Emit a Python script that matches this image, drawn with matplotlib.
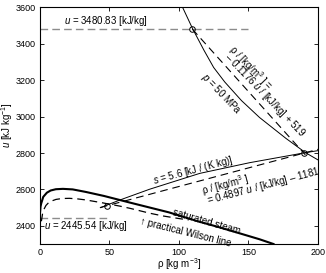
import matplotlib
matplotlib.use("Agg")
import matplotlib.pyplot as plt
import numpy as np

plt.rcParams['font.family'] = ['Liberation Sans', 'DejaVu Sans']
plt.rcParams['mathtext.fontset'] = 'custom'
plt.rcParams['mathtext.rm'] = 'Liberation Sans'
plt.rcParams['mathtext.it'] = 'Liberation Sans:italic'
plt.rcParams['lines.scale_dashes'] = False

# ---- data ----
rho_sat = [0.03, 0.083, 0.2, 0.6, 1.12, 2.55, 5.16, 7.86, 11.6, 16.7, 23.7, 33.2,
           46.2, 64.6, 92.8, 113.6, 130, 144, 158, 168]
u_sat = [2416, 2443, 2469, 2506, 2524, 2559, 2582, 2594, 2601, 2603, 2600, 2586,
         2564, 2528, 2474, 2425, 2390, 2358, 2326, 2300]

rho_wil = [1.2, 2.0, 3.0, 4.5, 7.0, 11.7, 16, 21.3, 27, 33.3, 45.3, 57.7, 64.9,
           79.2, 88.7, 100, 107]
u_wil = [2425, 2465, 2490, 2512, 2532, 2545, 2550, 2551, 2548, 2542, 2526, 2508,
         2496, 2469, 2454, 2440, 2432]

rho_p50 = [102.7, 110, 118, 125, 133, 145, 158, 177, 191, 200]
u_p50 = [3600, 3481, 3365, 3270, 3190, 3088, 2995, 2880, 2802, 2762]

rho_s56 = [44, 47, 57.7, 79, 115, 151, 191, 200]
u_s56 = [2500, 2510, 2542, 2601, 2688, 2747, 2802, 2813]

u_hi = 3480.83
u_lo = 2445.54
rho_hi_end = 150
rho_lo_end = 48

# fit lines (as labelled): rho = a*u + b
a1, b1 = -0.1176, 519
u_fit1 = [3480.83, 2790]
a2, b2 = 0.4897, -1181
u_fit2 = [2500, 2820.5]

rho_pts = [109.6, 189.8, 48.1]
u_pts = [3480.83, 2799.3, 2510]

xticks = [0, 50, 100, 150, 200]
yticks = [2400, 2600, 2800, 3000, 3200, 3400, 3600]

# ---- figure ----
fig = plt.figure(figsize=(3.26, 2.73), dpi=100)
ax = fig.add_axes([0.1218, 0.1062, 0.8537, 0.8667])

gray = '#8c8c8c'
ax.plot([0, rho_hi_end], [u_hi, u_hi], color=gray, lw=1.0, ls=(0, (5.5, 3)))
ax.plot([0, rho_lo_end], [u_lo, u_lo], color=gray, lw=1.0, ls=(0, (5.5, 3)))

ax.plot(rho_sat, u_sat, color='black', lw=1.5)
ax.plot(rho_wil, u_wil, color='black', lw=0.9, ls=(0, (5.5, 3.5)))
ax.plot(rho_p50, u_p50, color='black', lw=0.7)
ax.plot(rho_s56, u_s56, color='black', lw=0.7)

uf1 = np.array(u_fit1)
ax.plot(a1 * uf1 + b1, uf1, color='black', lw=0.8, ls=(0, (5.5, 3.5)))
uf2 = np.array(u_fit2)
ax.plot(a2 * uf2 + b2, uf2, color='black', lw=0.8, ls=(0, (5.5, 3.5)))

ax.plot(rho_pts, u_pts, ls='none', marker='o', ms=4, mfc='none', mec='black', mew=0.7)

fs = 7
ax.text(47.6, 3528, '$u$ = 3480.83 [kJ/kg]', fontsize=fs, ha='center', va='center')
ax.text(33.3, 2400, '$u$ = 2445.54 [kJ/kg]', fontsize=fs, ha='center', va='center')
ax.text(130.5, 3124, '$p$ = 50 MPa', fontsize=fs, ha='center', va='center',
        rotation=-46, rotation_mode='anchor')
ax.text(137.6, 3382, 'ρ / [kg/m$^3$ ] =', fontsize=fs, ha='left', va='center',
        rotation=-46, rotation_mode='anchor')
ax.text(133.6, 3335, '– 0.1176 $u$ / [kJ/kg] + 519', fontsize=fs, ha='left', va='center',
        rotation=-46, rotation_mode='anchor')
ax.text(81.4, 2646, '$s$ = 5.6 [kJ / (K kg)]', fontsize=fs, ha='left', va='center',
        rotation=15, rotation_mode='anchor')
ax.text(116.6, 2591, 'ρ / [kg/m$^3$ ]', fontsize=fs, ha='left', va='center',
        rotation=15, rotation_mode='anchor')
ax.text(120.3, 2536, '= 0.4897 $u$ / [kJ/kg] – 1181', fontsize=fs, ha='left', va='center',
        rotation=15, rotation_mode='anchor')
ax.text(95.5, 2474, 'saturated steam', fontsize=fs, ha='left', va='center',
        rotation=-16, rotation_mode='anchor')
ax.text(72, 2426, '↑ practical Wilson line', fontsize=fs, ha='left', va='center',
        rotation=-14, rotation_mode='anchor')

ax.set_xlim(0, 200)
ax.set_ylim(2300, 3600)
ax.set_xticks(xticks)
ax.set_yticks(yticks)
ax.tick_params(direction='in', length=3, width=0.6, labelsize=6.5, top=True, right=True,
               colors='black', pad=3)
for sp in ax.spines.values():
    sp.set_linewidth(0.8)

fig.text(179 / 326, 1 - 264 / 273, 'ρ [kg m$^{-3}$]', fontsize=fs, ha='center', va='center')
fig.text(7 / 326, 1 - 125 / 273, '$u$ [kJ kg$^{-1}$]', fontsize=fs, ha='center', va='center',
         rotation=90)

fig.savefig('out.png', dpi=100)
